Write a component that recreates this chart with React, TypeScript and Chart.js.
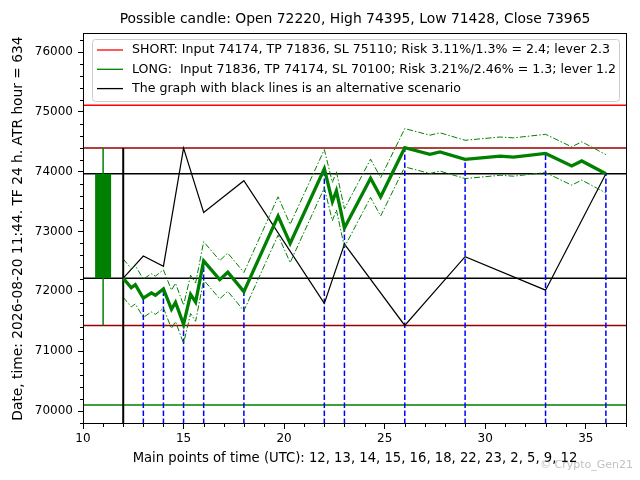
import { useEffect, useRef } from "react";
import { Chart, registerables } from "chart.js";

Chart.register(...registerables);

const FONT = "'DejaVu Sans', sans-serif";

// axis ranges and tick labels
const X_MIN = 10;
const X_MAX = 37.05;
const Y_MIN = 69783;
const Y_MAX = 76318;
const xTickValues = [10, 15, 20, 25, 30, 35];
const yTickValues = [70000, 71000, 72000, 73000, 74000, 75000, 76000];

// horizontal levels: SL short, high, close, open, low, SL long
const levelValues = [75110, 74395, 73965, 72220, 71428, 70100];
const levelColors = ["#ff0000", "#990000", "#000000", "#000000", "#990000", "#008000"];

// possible candle
const candleX = 11;
const candleOpen = 72220;
const candleHigh = 74395;
const candleLow = 71428;
const candleClose = 73965;
const startX = 12;

// main scenario (thick green line) and its band
const mainTimes = [12, 12.4, 12.6, 13, 13.4, 13.6, 14, 14.4, 14.6, 15, 15.35, 15.6, 16, 16.8, 17.2, 18, 19.7, 20.3, 22, 22.4, 22.6, 23, 24.3, 24.8, 26, 27.25, 27.75, 29, 30.75, 31.4, 33, 34.3, 34.8, 36];
const mainValues = [72220, 72060, 72110, 71885, 71975, 71935, 72040, 71700, 71815, 71450, 71950, 71820, 72510, 72195, 72320, 71995, 73260, 72800, 74050, 73500, 73680, 73060, 73890, 73580, 74400, 74290, 74330, 74205, 74260, 74245, 74305, 74095, 74180, 73965];
const upperValues = [72540, 72380, 72430, 72205, 72295, 72255, 72360, 72020, 72135, 71770, 72270, 72140, 72830, 72515, 72640, 72315, 73580, 73120, 74370, 73820, 74000, 73380, 74210, 73900, 74720, 74610, 74650, 74525, 74580, 74565, 74625, 74415, 74500, 74285];
const lowerValues = [71900, 71740, 71790, 71565, 71655, 71615, 71720, 71380, 71495, 71130, 71630, 71500, 72190, 71875, 72000, 71675, 72940, 72480, 73730, 73180, 73360, 72740, 73570, 73260, 74080, 73970, 74010, 73885, 73940, 73925, 73985, 73775, 73860, 73645];

// alternative scenario (black line)
const altTimes = [12, 13, 14, 15, 16, 18, 22, 23, 26, 29, 33, 36];
const altValues = [72220, 72590, 72420, 74395, 73320, 73850, 71800, 72790, 71430, 72580, 72020, 73965];

// main points of time (blue dashed verticals)
const keyTimes = [13, 14, 15, 16, 18, 22, 23, 26, 29, 33, 36];
const keyValues = [71885, 72040, 71450, 72510, 71995, 74050, 73060, 74400, 74205, 74305, 73965];

const titleText = "Possible candle: Open 72220, High 74395, Low 71428, Close 73965";
const xTitle = "Main points of time (UTC): 12, 13, 14, 15, 16, 18, 22, 23, 2, 5, 9, 12";
const yTitle = "Date, time: 2026-08-20 11:44. TF 24 h. ATR hour = 634";
const legendLabels = [
  "SHORT: Input 74174, TP 71836, SL 75110; Risk 3.11%/1.3% = 2.4; lever 2.3",
  "LONG:  Input 71836, TP 74174, SL 70100; Risk 3.21%/2.46% = 1.3; lever 1.2",
  "The graph with black lines is an alternative scenario",
];
const legendColors = ["#ff0000", "#008000", "#000000"];
const watermark = "© Crypto_Gen21";

const seg = (x1: number, y1: number, x2: number, y2: number) => [
  { x: x1, y: y1 },
  { x: x2, y: y2 },
];
const zip = (xs: number[], ys: number[]) => xs.map((x, i) => ({ x, y: ys[i] }));

// frame on all four sides + minor ticks
const framePlugin = {
  id: "frame",
  afterDatasetsDraw(chart: any) {
    const { ctx, chartArea: a, scales } = chart;
    ctx.save();
    ctx.strokeStyle = "#000";
    ctx.lineWidth = 1;
    ctx.strokeRect(a.left + 0.5, a.top + 0.5, a.right - a.left - 1, a.bottom - a.top - 1);
    ctx.beginPath();
    for (let v = 11; v < X_MAX; v += 1) {
      if (v % 5 === 0) continue;
      const px = Math.round(scales.x.getPixelForValue(v)) + 0.5;
      ctx.moveTo(px, a.bottom);
      ctx.lineTo(px, a.bottom + 3);
    }
    for (let v = 69800; v < Y_MAX; v += 200) {
      if (v % 1000 === 0) continue;
      const py = Math.round(scales.y.getPixelForValue(v)) + 0.5;
      ctx.moveTo(a.left, py);
      ctx.lineTo(a.left - 3, py);
    }
    ctx.stroke();
    ctx.restore();
  },
};

// title centred over the plot, legend box inside the plot, watermark
const overlayPlugin = {
  id: "overlay",
  afterDraw(chart: any) {
    const { ctx, chartArea: a } = chart;
    ctx.save();
    ctx.fillStyle = "#000";
    ctx.font = `13.9px ${FONT}`;
    ctx.textAlign = "center";
    ctx.textBaseline = "middle";
    ctx.fillText(titleText, (a.left + a.right) / 2, 19);

    const x0 = 92.5, y0 = 39.5, w = 527, h = 62, r = 3;
    ctx.beginPath();
    ctx.roundRect(x0, y0, w, h, r);
    ctx.fillStyle = "rgba(255,255,255,0.8)";
    ctx.fill();
    ctx.strokeStyle = "#cccccc";
    ctx.lineWidth = 1;
    ctx.stroke();
    ctx.font = `12.6px ${FONT}`;
    ctx.textAlign = "left";
    ctx.fillStyle = "#000";
    legendLabels.forEach((label, i) => {
      const cy = 50 + i * 19.3;
      ctx.beginPath();
      ctx.strokeStyle = legendColors[i];
      ctx.lineWidth = 1.3;
      ctx.moveTo(97, cy);
      ctx.lineTo(123, cy);
      ctx.stroke();
      ctx.fillText(label, 132, cy);
    });

    ctx.font = `11px ${FONT}`;
    ctx.fillStyle = "rgba(150,150,150,0.6)";
    ctx.fillText(watermark, 540, 465);
    ctx.restore();
  },
};

export default function App() {
  const chartRef = useRef<HTMLCanvasElement | null>(null);

  useEffect(() => {
    if (!chartRef.current) return;
    const ctx = chartRef.current.getContext("2d");
    if (!ctx) return;

    const base = { pointRadius: 0, pointHoverRadius: 0, fill: false, tension: 0, showLine: true };

    const levelSets = levelValues.map((v, i) => ({
      ...base,
      data: seg(X_MIN, v, X_MAX, v),
      borderColor: levelColors[i],
      borderWidth: 1.5,
      order: 9,
    }));

    const keySets = keyTimes.map((t, i) => ({
      ...base,
      data: seg(t, Y_MIN, t, keyValues[i]),
      borderColor: "#0000ff",
      borderWidth: 1.5,
      borderDash: [5.5, 2.5],
      order: 5,
    }));

    const myChart = new Chart(ctx, {
      type: "line",
      data: {
        datasets: [
          ...levelSets,
          {
            ...base,
            data: seg(candleX, candleLow, candleX, candleHigh),
            borderColor: "#008000",
            borderWidth: 1.5,
            order: 3,
          },
          {
            ...base,
            data: seg(candleX, candleOpen, candleX, candleClose),
            borderColor: "#008000",
            borderWidth: 16,
            borderCapStyle: "butt",
            order: 2,
          },
          {
            ...base,
            data: seg(startX, Y_MIN, startX, candleHigh),
            borderColor: "#000000",
            borderWidth: 2,
            order: 2,
          },
          ...keySets,
          {
            ...base,
            data: zip(altTimes, altValues),
            borderColor: "#000000",
            borderWidth: 1.2,
            order: 4,
          },
          {
            ...base,
            data: zip(mainTimes, upperValues),
            borderColor: "#008000",
            borderWidth: 1,
            borderDash: [6, 2, 1.5, 2],
            order: 3,
          },
          {
            ...base,
            data: zip(mainTimes, lowerValues),
            borderColor: "#008000",
            borderWidth: 1,
            borderDash: [6, 2, 1.5, 2],
            order: 3,
          },
          {
            ...base,
            data: zip(mainTimes, mainValues),
            borderColor: "#008000",
            borderWidth: 3.3,
            borderJoinStyle: "miter",
            order: 1,
          },
        ],
      },
      options: {
        responsive: true,
        maintainAspectRatio: false,
        animation: false,
        events: [],
        layout: { padding: { left: 0, right: 13, top: 33, bottom: 0 } },
        plugins: {
          legend: { display: false },
          tooltip: { enabled: false },
          title: { display: false },
        },
        scales: {
          x: {
            type: "linear",
            position: "bottom",
            min: X_MIN,
            max: X_MAX,
            afterFit: (scale: any) => {
              scale.height = 56;
            },
            afterBuildTicks: (scale: any) => {
              scale.ticks = xTickValues.map((value) => ({ value }));
            },
            border: { display: false },
            grid: { display: true, drawOnChartArea: false, tickLength: 5, tickColor: "#000" },
            ticks: {
              color: "#000",
              padding: 3,
              maxRotation: 0,
              autoSkip: false,
              font: { family: FONT, size: 12 },
            },
            title: {
              display: true,
              text: xTitle,
              color: "#000",
              font: { family: FONT, size: 13.2 },
              padding: { top: 0, bottom: 14 },
            },
          },
          y: {
            type: "linear",
            min: Y_MIN,
            max: Y_MAX,
            afterFit: (scale: any) => {
              scale.width = 83;
            },
            afterBuildTicks: (scale: any) => {
              scale.ticks = yTickValues.map((value) => ({ value }));
            },
            border: { display: false },
            grid: { display: true, drawOnChartArea: false, tickLength: 5, tickColor: "#000" },
            ticks: {
              color: "#000",
              padding: 5,
              autoSkip: false,
              font: { family: FONT, size: 12 },
              callback: (v: any) => String(v),
            },
            title: {
              display: true,
              text: yTitle,
              color: "#000",
              font: { family: FONT, size: 13.8 },
              padding: { top: 10, bottom: 0 },
            },
          },
        },
      },
      plugins: [framePlugin, overlayPlugin],
    } as any);

    return () => {
      myChart.destroy();
    };
  }, []);

  return (
    <div style={{ position: "absolute", left: 0, top: 0, width: 640, height: 480, background: "#fff" }}>
      <canvas ref={chartRef}></canvas>
    </div>
  );
}
